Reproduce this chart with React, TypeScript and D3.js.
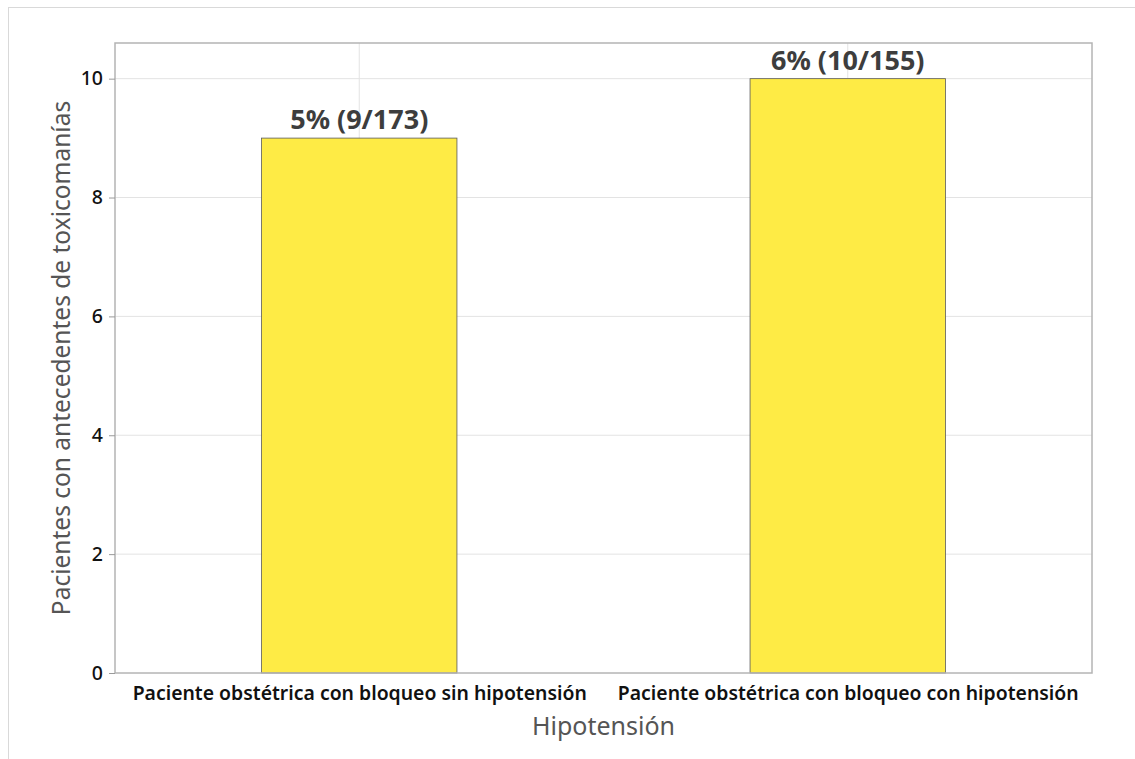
import { useEffect, useRef } from 'react';
import * as d3 from 'd3';

const categories = [
  'Paciente obstétrica con bloqueo sin hipotensión',
  'Paciente obstétrica con bloqueo con hipotensión',
];
const counts = [9, 10];
const barLabels = ['5% (9/173)', '6% (10/155)'];
const yTicks = [0, 2, 4, 6, 8, 10];

const W = 1135;
const H = 759;
const FONT = '"Segoe UI", "Noto Sans", "Open Sans", sans-serif';

export default function App() {
  const svgRef = useRef<SVGSVGElement>(null);

  useEffect(() => {
    if (!svgRef.current) return;
    const svg = d3.select(svgRef.current);
    svg.selectAll('*').remove();

    const margin = { top: 43, right: 43, bottom: 86, left: 115 };
    const innerW = W - margin.left - margin.right;
    const innerH = H - margin.top - margin.bottom;

    // outer frame (extends past the picture on the right and bottom)
    svg.append('rect')
      .attr('x', 8.5).attr('y', 7.5)
      .attr('width', W + 20).attr('height', H + 20)
      .attr('fill', 'none').attr('stroke', '#d9d9d9');

    const x = d3.scalePoint<string>().domain(categories).range([0, innerW]).padding(0.5);
    const y = d3.scaleLinear().domain([0, 10.6]).range([innerH, 0]);
    const barW = innerW * 0.2;

    const g = svg.append('g').attr('transform', `translate(${margin.left},${margin.top})`);

    // grid
    g.append('g').selectAll('line.h').data(yTicks.slice(1)).join('line')
      .attr('x1', 0).attr('x2', innerW)
      .attr('y1', d => y(d)).attr('y2', d => y(d))
      .attr('stroke', '#e3e3e3');
    g.append('g').selectAll('line.v').data(categories).join('line')
      .attr('x1', d => x(d)!).attr('x2', d => x(d)!)
      .attr('y1', 0).attr('y2', innerH)
      .attr('stroke', '#e3e3e3');

    // bars
    g.append('g').selectAll('rect').data(categories).join('rect')
      .attr('x', d => x(d)! - barW / 2)
      .attr('width', barW)
      .attr('y', (_, i) => y(counts[i]))
      .attr('height', (_, i) => innerH - y(counts[i]))
      .attr('fill', '#feeb45')
      .attr('stroke', '#5a5a5a')
      .attr('stroke-width', 0.8);

    // value labels
    g.append('g').selectAll('text').data(categories).join('text')
      .attr('x', d => x(d)!)
      .attr('y', (_, i) => y(counts[i]) - 9)
      .attr('text-anchor', 'middle')
      .attr('font-family', FONT)
      .attr('font-size', '27px')
      .attr('font-weight', '700')
      .attr('fill', '#3d3d3d')
      .text((_, i) => barLabels[i]);

    // plot frame
    g.append('rect')
      .attr('x', 0).attr('y', 0).attr('width', innerW).attr('height', innerH)
      .attr('fill', 'none').attr('stroke', '#b4b4b4').attr('stroke-width', 1.5);

    // y axis
    const yAxis = g.append('g')
      .call(d3.axisLeft(y).tickValues(yTicks).tickSize(6).tickPadding(6));
    yAxis.select('.domain').remove();
    yAxis.selectAll('.tick line').attr('stroke', '#9a9a9a');
    yAxis.selectAll('.tick text')
      .attr('font-family', FONT).attr('font-size', '19.5px').attr('font-weight', '500').attr('fill', '#111');

    // x axis
    const xAxis = g.append('g')
      .attr('transform', `translate(0,${innerH})`)
      .call(d3.axisBottom(x).tickSize(0).tickPadding(13));
    xAxis.select('.domain').remove();
    xAxis.selectAll('.tick text')
      .attr('font-family', FONT).attr('font-size', '19.4px').attr('font-weight', '600').attr('fill', '#111');

    // axis titles
    g.append('text')
      .attr('x', innerW / 2).attr('y', innerH + 62)
      .attr('text-anchor', 'middle')
      .attr('font-family', FONT).attr('font-size', '25px').attr('fill', '#555555')
      .text('Hipotensión');

    g.append('text')
      .attr('transform', 'rotate(-90)')
      .attr('x', -innerH / 2).attr('y', -45)
      .attr('text-anchor', 'middle')
      .attr('font-family', FONT).attr('font-size', '24.5px').attr('fill', '#555555')
      .text('Pacientes con antecedentes de toxicomanías');
  }, []);

  return (
    <svg
      ref={svgRef}
      width={W}
      height={H}
      style={{ position: 'absolute', left: 0, top: 0, background: '#fff' }}
    />
  );
}
